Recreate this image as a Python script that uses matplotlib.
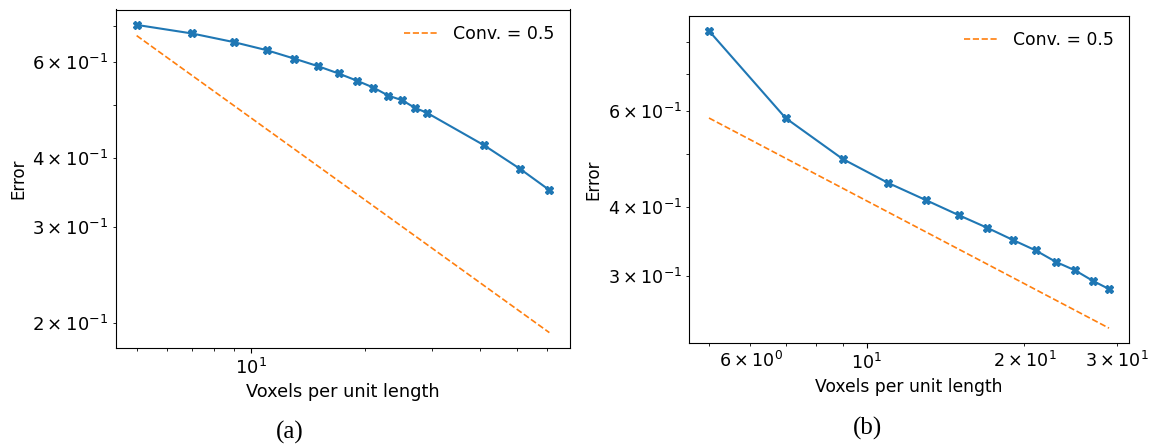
import matplotlib
matplotlib.use("Agg")
import matplotlib.pyplot as plt

# Panel (a)
a_x = [5, 7, 9, 11, 13, 15, 17, 19, 21, 23, 25, 27, 29, 41, 51, 61]
a_err = [0.702, 0.677, 0.653, 0.631, 0.609, 0.590, 0.572, 0.555, 0.539,
         0.521, 0.511, 0.495, 0.485, 0.423, 0.383, 0.350]
a_ref_x = [5, 61]
a_ref = [0.671, 0.192]

# Panel (b)
b_x = [5, 7, 9, 11, 13, 15, 17, 19, 21, 23, 25, 27, 29]
b_err = [0.839, 0.582, 0.490, 0.443, 0.412, 0.387, 0.367, 0.349, 0.334,
         0.318, 0.307, 0.294, 0.284]
b_ref_x = [5, 29]
b_ref = [0.582, 0.241]

ref_label = "Conv. = 0.5"
xlabel = "Voxels per unit length"
ylabel = "Error"
captions = ["(a)", "(b)"]

W, H = 1154, 446
fig = plt.figure(figsize=(W / 100, H / 100), dpi=100)

def box(l, t, r, b):
    return [l / W, 1 - b / H, (r - l) / W, (b - t) / H]

ax1 = fig.add_axes(box(116, 9.5, 570, 348))
ax2 = fig.add_axes(box(689, 16, 1129, 343))

blue = "#1f77b4"
orange = "#ff7f0e"

panels = [
    (ax1, a_x, a_err, a_ref_x, a_ref, dict(tick=13, xl=12.8, yl=12, leg=12.5)),
    (ax2, b_x, b_err, b_ref_x, b_ref, dict(tick=12.6, xl=12.3, yl=12, leg=12.4)),
]
for ax, x, y, rx, ry, fs in panels:
    ax.plot(x, y, color=blue, marker="X", markersize=6.2, linewidth=1.5)
    ax.plot(rx, ry, color=orange, linestyle="--", linewidth=1.2, label=ref_label)
    ax.set_xscale("log")
    ax.set_yscale("log")
    ax.set_xlabel(xlabel, fontsize=fs["xl"])
    ax.set_ylabel(ylabel, fontsize=fs["yl"])
    ax.tick_params(which="both", labelsize=fs["tick"])
    ax.legend(loc="upper right", frameon=False, fontsize=fs["leg"])

fig.text(290 / W, 1 - 432 / H, captions[0], family="Liberation Serif",
         fontsize=18, ha="center", va="center")
fig.text(868 / W, 1 - 428 / H, captions[1], family="Liberation Serif",
         fontsize=18, ha="center", va="center")

fig.savefig("out.png", dpi=100)
